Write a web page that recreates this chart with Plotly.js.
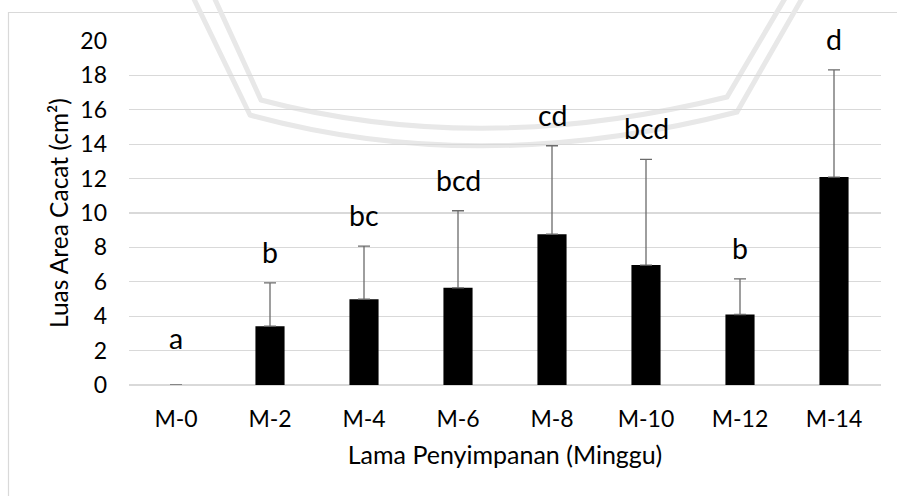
<!DOCTYPE html>
<html>
<head>
<meta charset="utf-8">
<script src="https://cdn.plot.ly/plotly-3.0.1.min.js"></script>
<style>html,body{margin:0;padding:0;background:#fff;}#chart{width:897px;height:496px;}</style>
</head>
<body>
<div id="chart"></div>
<script>
// ---- data ----
var categories = ["M-0", "M-2", "M-4", "M-6", "M-8", "M-10", "M-12", "M-14"];
var meanArea = [0, 3.42, 4.99, 5.65, 8.77, 6.97, 4.10, 12.09];
var sdArea = [0, 2.52, 3.08, 4.48, 5.14, 6.15, 2.07, 6.23];
var letters = ["a", "b", "bc", "bcd", "cd", "bcd", "b", "d"];
var yTicks = [0, 2, 4, 6, 8, 10, 12, 14, 16, 18, 20];

// ---- layout geometry (pixels) ----
var W = 897, H = 496;
var L = 129, R = 16, T = 41, B = 111;
var PW = W - L - R, PH = H - T - B;
function px(x, y) { return ((x - L) / PW).toFixed(4) + "," + ((H - B - y) / PH).toFixed(4); }

var FONT = "Lato, 'Open Sans', sans-serif";

var trace = {
  type: "bar",
  x: categories,
  y: meanArea,
  width: 0.31,
  marker: { color: "#000000", line: { width: 0 } },
  error_y: {
    type: "data",
    symmetric: false,
    array: sdArea,
    arrayminus: sdArea.map(function () { return 0; }),
    color: "#6b6b6b",
    thickness: 1.3,
    width: 6,
    visible: true
  },
  hoverinfo: "x+y"
};

var annotations = categories.map(function (c, i) {
  return {
    x: c, y: meanArea[i] + sdArea[i], xref: "x", yref: "y",
    text: letters[i], showarrow: false,
    yanchor: "middle", yshift: sdArea[i] > 0 ? 31 : 47,
    font: { family: FONT, size: 28.5, color: "#000" }
  };
});
// y-axis title (placed as a rotated annotation for exact position)
annotations.push({
  xref: "paper", yref: "paper",
  x: (58 - L) / PW, y: (H - B - 213) / PH,
  xanchor: "center", yanchor: "middle",
  text: "Luas Area Cacat (cm²)", textangle: -90, showarrow: false,
  font: { family: FONT, size: 24.5, color: "#000" }
});

var bandColor = "#e8e8e8";
var shapes = [
  // chart frame
  { type: "line", xref: "paper", yref: "paper", layer: "below",
    x0: (8.5 - L) / PW, x1: (8.5 - L) / PW, y0: (H - B - 12) / PH, y1: (H - B - 500) / PH,
    line: { color: "#d9d9d9", width: 1.2 } },
  { type: "line", xref: "paper", yref: "paper", layer: "below",
    x0: (8 - L) / PW, x1: (900 - L) / PW, y0: (H - B - 12.5) / PH, y1: (H - B - 12.5) / PH,
    line: { color: "#d9d9d9", width: 1.2 } },
  // watermark band
  { type: "path", xref: "paper", yref: "paper", layer: "below",
    path: "M" + px(213, -5) + " L" + px(261, 100) + " Q" + px(480, 158) + " " + px(727, 97) + " L" + px(787, -5),
    line: { color: bandColor, width: 5 } },
  { type: "path", xref: "paper", yref: "paper", layer: "below",
    path: "M" + px(192, -5) + " L" + px(250, 115) + " Q" + px(480, 178) + " " + px(737, 112) + " L" + px(804, -5),
    line: { color: bandColor, width: 5 } }
];

var layout = {
  width: W, height: H,
  margin: { l: L, r: R, t: T, b: B, pad: 0 },
  paper_bgcolor: "#ffffff",
  plot_bgcolor: "rgba(0,0,0,0)",
  showlegend: false,
  font: { family: FONT, color: "#000" },
  xaxis: {
    type: "category",
    showgrid: false,
    showline: false,
    zeroline: false,
    ticks: "",
    ticklabelstandoff: 18,
    tickfont: { family: FONT, size: 23, color: "#000" },
    title: { text: "Lama Penyimpanan (Minggu)", standoff: 15,
             font: { family: FONT, size: 25, color: "#000" } },
    automargin: false
  },
  yaxis: {
    range: [0, 20],
    tickvals: yTicks,
    ticktext: yTicks.map(String),
    showgrid: true,
    gridcolor: "#d9d9d9",
    gridwidth: 1.2,
    zeroline: true,
    zerolinecolor: "#d9d9d9",
    zerolinewidth: 1.2,
    showline: false,
    ticks: "",
    ticklabelstandoff: 21,
    tickfont: { family: FONT, size: 23, color: "#000" },
    fixedrange: true,
    automargin: false
  },
  annotations: annotations,
  shapes: shapes
};

Plotly.newPlot("chart", [trace], layout, { displayModeBar: false, staticPlot: true });
</script>
</body>
</html>
